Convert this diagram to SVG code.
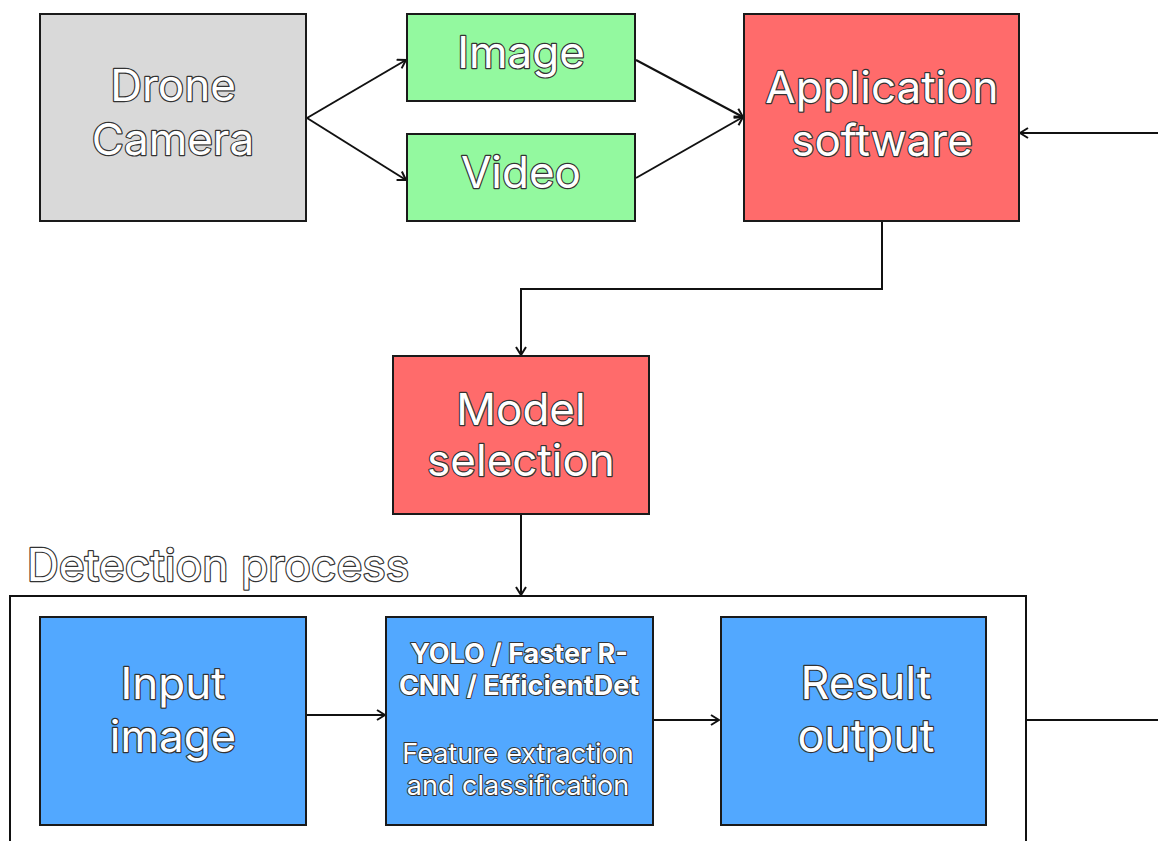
<svg xmlns="http://www.w3.org/2000/svg" width="1158" height="841" viewBox="0 0 1158 841">
  <style>
    .box { stroke: #1a1a1a; stroke-width: 2; }
    .gray { fill: #d9d9d9; }
    .green { fill: #93f99f; }
    .red { fill: #ff6b6b; }
    .blue { fill: #52a8ff; }
    .lbl { font-family: Inter, "Noto Sans", "Liberation Sans", sans-serif; fill: #ffffff; stroke: #333333; stroke-width: 2.4; paint-order: stroke; stroke-linejoin: round; text-anchor: middle; font-size: 44px; }
    .bold { font-weight: 700; }
    .small { font-size: 27px; stroke-width: 2; }
    .conn { fill: none; stroke: #111; stroke-width: 2; }
  </style>
  <defs>
    <marker id="arrow" viewBox="0 0 10 12" refX="9" refY="6" markerWidth="10" markerHeight="12" markerUnits="userSpaceOnUse" orient="auto">
      <path d="M1,1 L9,6 L1,11" fill="none" stroke="#111" stroke-width="2"/>
    </marker>
  </defs>
  <rect width="1158" height="841" fill="#ffffff"/>

  <!-- detection process frame -->
  <g id="detection-process">
    <rect x="10" y="596" width="1016" height="270" fill="none" stroke="#111" stroke-width="2"/>
    <text class="lbl" x="218" y="581" style="font-size:44.5px" stroke-width="2">Detection process</text>
  </g>

  <!-- connectors -->
  <g id="connectors">
    <path class="conn" d="M307,118 L406,60" marker-end="url(#arrow)"/>
    <path class="conn" d="M307,118 L406,180" marker-end="url(#arrow)"/>
    <path class="conn" d="M636,60 L743,117" marker-end="url(#arrow)"/>
    <path class="conn" d="M636,178 L743,117" marker-end="url(#arrow)"/>
    <path class="conn" d="M1158,133 L1020,133" marker-end="url(#arrow)"/>
    <path class="conn" d="M882,221 L882,289 L521,289 L521,355" marker-end="url(#arrow)"/>
    <path class="conn" d="M521,514 L521,595" marker-end="url(#arrow)"/>
    <path class="conn" d="M307,715 L385,715" marker-end="url(#arrow)"/>
    <path class="conn" d="M653,720 L719,720" marker-end="url(#arrow)"/>
    <path class="conn" d="M1026,720 L1158,720"/>
  </g>

  <g id="drone-camera">
    <rect class="box gray" x="40" y="14" width="266" height="207"/>
    <text class="lbl" x="173" y="101">Drone</text>
    <text class="lbl" x="173" y="155">Camera</text>
  </g>

  <g id="image">
    <rect class="box green" x="407" y="14" width="228" height="87"/>
    <text class="lbl" x="521" y="68">Image</text>
  </g>

  <g id="video">
    <rect class="box green" x="407" y="134" width="228" height="87"/>
    <text class="lbl" x="521" y="188">Video</text>
  </g>

  <g id="application-software">
    <rect class="box red" x="744" y="14" width="275" height="207"/>
    <text class="lbl" x="882" y="103">Application</text>
    <text class="lbl" x="882" y="156">software</text>
  </g>

  <g id="model-selection">
    <rect class="box red" x="393" y="356" width="256" height="158"/>
    <text class="lbl" x="521" y="425">Model</text>
    <text class="lbl" x="521" y="476">selection</text>
  </g>

  <g id="input-image">
    <rect class="box blue" x="40" y="617" width="266" height="208"/>
    <text class="lbl" x="173" y="699">Input</text>
    <text class="lbl" x="173" y="752">image</text>
  </g>

  <g id="detector">
    <rect class="box blue" x="386" y="617" width="267" height="208"/>
    <text class="lbl bold small" x="519" y="663">YOLO / Faster R-</text>
    <text class="lbl bold small" x="519" y="695">CNN / EfficientDet</text>
    <text class="lbl small" x="518" y="763">Feature extraction</text>
    <text class="lbl small" x="518" y="795">and classification</text>
  </g>

  <g id="result-output">
    <rect class="box blue" x="721" y="617" width="265" height="208"/>
    <text class="lbl" x="866" y="699" style="font-size:45px">Result</text>
    <text class="lbl" x="866" y="752" style="font-size:45px">output</text>
  </g>
</svg>
